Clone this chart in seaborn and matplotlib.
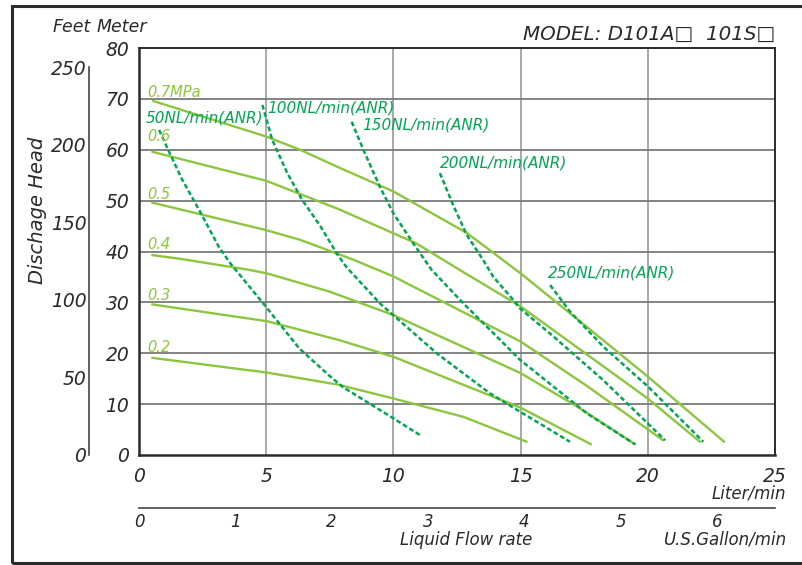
import matplotlib
matplotlib.use('Agg')
import matplotlib.pyplot as plt
import seaborn as sns
import pandas as pd

sns.set_style('white')
plt.rcParams['font.family'] = ['DejaVu Sans']
plt.rcParams['font.style'] = 'italic'

# pressure curves (Liter/min, meter)
p07_x = [0.55, 5.0, 6.33, 7.86, 10.0, 12.9, 15.0, 17.6, 20.0, 23.0]
p07_y = [69.6, 62.6, 60.0, 56.5, 51.8, 43.6, 35.7, 25.2, 15.4, 2.6]
p06_x = [0.52, 5.0, 6.33, 7.86, 10.9, 12.6, 15.0, 20.0, 22.05]
p06_y = [59.6, 53.9, 51.3, 48.3, 41.6, 36.4, 29.2, 11.1, 2.6]
p05_x = [0.52, 5.0, 6.33, 8.42, 10.0, 15.0, 17.6, 20.6]
p05_y = [49.6, 44.2, 42.3, 38.4, 35.1, 22.3, 13.6, 2.9]
p04_x = [0.52, 1.7, 4.32, 5.03, 7.5, 10.0, 15.0, 17.2, 19.5]
p04_y = [39.3, 38.5, 36.4, 35.7, 32.1, 27.5, 16.1, 9.6, 2.1]
p03_x = [0.52, 5.03, 7.86, 10.0, 15.0, 17.77]
p03_y = [29.6, 26.3, 22.6, 19.3, 9.3, 2.1]
p02_x = [0.52, 5.03, 7.86, 10.0, 12.75, 15.24]
p02_y = [19.1, 16.2, 13.8, 11.1, 7.5, 2.6]

# air consumption curves
a050_x = [0.79, 1.18, 1.7, 2.36, 3.14, 3.6, 4.98, 6.29, 7.5, 8.0, 10.0, 11.05]
a050_y = [63.9, 59.6, 54.1, 48.2, 40.9, 37.6, 29.2, 21.0, 15.5, 13.4, 7.2, 3.9]
a100_x = [4.85, 5.24, 5.83, 6.42, 7.14, 7.8, 8.16, 9.47, 10.13, 11.7, 13.8, 14.98, 16.94]
a100_y = [68.8, 61.9, 55.4, 50.1, 44.9, 39.4, 36.9, 29.8, 26.9, 20.0, 12.1, 8.5, 2.6]
a150_x = [8.36, 8.82, 9.47, 10.0, 10.78, 11.5, 12.75, 14.06, 14.98, 17.6, 19.5]
a150_y = [65.5, 60.0, 52.7, 47.5, 41.6, 36.4, 29.8, 23.3, 18.7, 8.2, 2.1]
a200_x = [11.83, 12.35, 12.88, 13.53, 13.93, 14.71, 14.98, 16.29, 18.25, 20.68]
a200_y = [55.4, 49.1, 43.3, 38.3, 35.0, 30.5, 28.8, 23.3, 14.7, 2.9]
a250_x = [16.16, 16.94, 18.25, 20.02, 22.18]
a250_y = [33.4, 28.2, 21.3, 13.4, 2.6]

pressure_labels = ['0.7MPa', '0.6', '0.5', '0.4', '0.3', '0.2']
pressure_label_y = [71.2, 62.7, 51.3, 41.3, 31.3, 21.2]
air_labels = ['50NL/min(ANR)', '100NL/min(ANR)', '150NL/min(ANR)',
              '200NL/min(ANR)', '250NL/min(ANR)']
air_label_xy = [(0.28, 66.2), (5.03, 68.2), (8.77, 64.9), (11.83, 57.4), (16.08, 35.8)]

light = '#8cc63f'
dark = '#00a651'
ink = '#2a2a2a'

fig = plt.figure(figsize=(8.02, 5.65), dpi=100)
pos = [139 / 802, 1 - 455 / 565, (775 - 139) / 802, (455 - 48) / 565]
ax = fig.add_axes(pos)

press = [(p07_x, p07_y), (p06_x, p06_y), (p05_x, p05_y),
         (p04_x, p04_y), (p03_x, p03_y), (p02_x, p02_y)]
for xs, ys in press:
    sns.lineplot(x=xs, y=ys, ax=ax, color=light, lw=1.7, sort=False, estimator=None)

air = [(a050_x, a050_y), (a100_x, a100_y), (a150_x, a150_y),
       (a200_x, a200_y), (a250_x, a250_y)]
for xs, ys in air:
    sns.lineplot(x=xs, y=ys, ax=ax, color=dark, lw=1.8, sort=False, estimator=None,
                 linestyle=(0, (1.9, 1.1)))

for lab, yy in zip(pressure_labels, pressure_label_y):
    ax.text(0.31, yy, lab, color=light, fontsize=10.5, va='center', ha='left')
for lab, (xx, yy) in zip(air_labels, air_label_xy):
    ax.text(xx, yy, lab, color=dark, fontsize=11, va='center', ha='left')

ax.set_xlim(0, 25)
ax.set_ylim(0, 80)
ax.set_xticks(range(0, 26, 5))
ax.set_yticks(range(0, 81, 10))
ax.set_xlabel('')
ax.set_ylabel('')
for x in range(5, 25, 5):
    ax.axvline(x, color='#a8a8a8', lw=1.4, zorder=0)
for y in range(10, 80, 10):
    ax.axhline(y, color='#7a7a7a', lw=1.3, zorder=0)
for s in ['left', 'bottom']:
    ax.spines[s].set_color(ink)
    ax.spines[s].set_linewidth(1.8)
for s in ['top', 'right']:
    ax.spines[s].set_color(ink)
    ax.spines[s].set_linewidth(1.4)
ax.tick_params(axis='both', direction='out', length=6, width=1.2, color=ink,
               labelsize=13.5, labelcolor=ink)
ax.tick_params(axis='y', pad=1)
ax.tick_params(axis='x', pad=3)

# feet axis
axf = fig.add_axes(pos)
axf.patch.set_visible(False)
axf.set_ylim(0, 80 / 0.3048)
axf.set_xticks([])
for s in ['top', 'right', 'bottom']:
    axf.spines[s].set_visible(False)
axf.spines['left'].set_position(('axes', -0.0786))
axf.spines['left'].set_bounds(0, 250)
axf.spines['left'].set_color('#444444')
axf.spines['left'].set_linewidth(1.2)
axf.set_yticks(range(0, 251, 50))
axf.tick_params(axis='y', direction='in', length=6, width=1.2, color='#444444',
                labelsize=13.5, labelcolor=ink, pad=2)

# gallon axis
axg = fig.add_axes(pos)
axg.patch.set_visible(False)
axg.set_xlim(0, 25 / 3.78541)
axg.set_yticks([])
for s in ['top', 'right', 'left']:
    axg.spines[s].set_visible(False)
axg.spines['bottom'].set_position(('axes', -0.130))
axg.spines['bottom'].set_color('#444444')
axg.spines['bottom'].set_linewidth(1.2)
axg.set_xticks(range(0, 7))
axg.tick_params(axis='x', direction='in', length=6, width=1.2, color='#444444',
                labelsize=12, labelcolor=ink, pad=4)

fig.text(72 / 802, 1 - 27 / 565, 'Feet', fontsize=12.5, color=ink, ha='center', va='center')
fig.text(122 / 802, 1 - 27 / 565, 'Meter', fontsize=12.5, color=ink, ha='center', va='center')
fig.text(775 / 802, 1 - 34 / 565, 'MODEL: D101A\u25a1  101S\u25a1', fontsize=14.3,
         color=ink, ha='right', va='center')
fig.text(38 / 802, 1 - 210 / 565, 'Dischage Head', fontsize=14, color=ink,
         rotation=90, ha='center', va='center')
fig.text(786 / 802, 1 - 494 / 565, 'Liter/min', fontsize=12, color=ink, ha='right', va='center')
fig.text(466 / 802, 1 - 540 / 565, 'Liquid Flow rate', fontsize=12, color=ink,
         ha='center', va='center')
fig.text(786 / 802, 1 - 540 / 565, 'U.S.Gallon/min', fontsize=12, color=ink,
         ha='right', va='center')

# outer frame, open on the right like the drawing sheet
frame = plt.Rectangle((12 / 802, 2 / 565), 1.0, 1 - 8 / 565, transform=fig.transFigure,
                      fill=False, edgecolor=ink, lw=2.2)
fig.patches.append(frame)

fig.savefig('out.png', dpi=100)
